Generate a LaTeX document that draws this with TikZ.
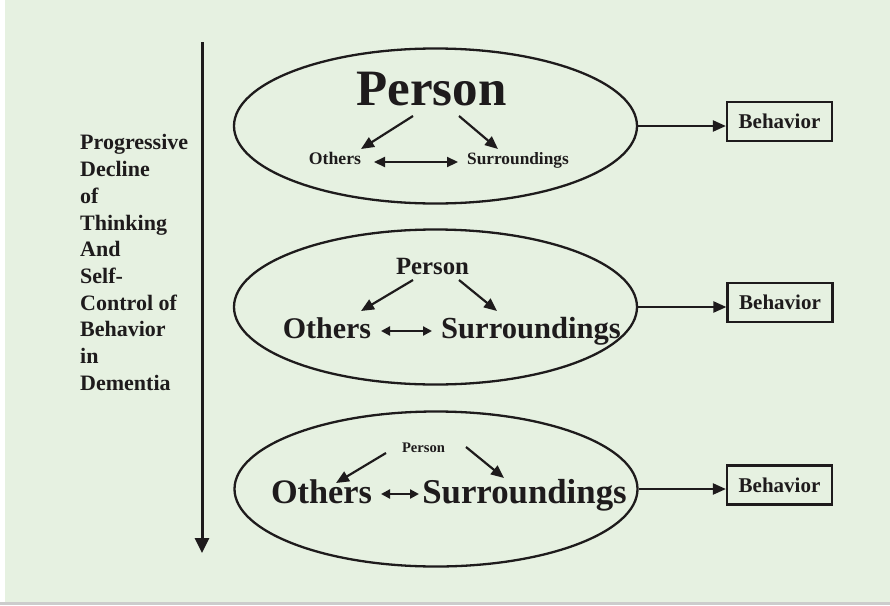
\documentclass[tikz,border=0pt]{standalone}
\usepackage{fontspec}
\setmainfont{Liberation Serif}
\usetikzlibrary{shapes.geometric,arrows.meta}
\definecolor{bg}{RGB}{230,241,225}
\definecolor{ink}{RGB}{30,27,28}
\tikzset{
  ell/.style={ellipse, draw=ink, line width=2.3pt, inner sep=0pt, minimum width=403pt, minimum height=155pt},
  lbl/.style={anchor=base, inner sep=0pt, text=ink, font=\bfseries},
  beh/.style={draw=ink, line width=2.2pt, minimum width=105pt, minimum height=39pt, inner sep=0pt, text=ink, font=\bfseries\fontsize{21}{24}\selectfont},
  arr/.style={draw=ink, line width=2.2pt, -{Triangle[length=13pt,width=11pt]}},
  darr/.style={draw=ink, line width=2.2pt, {Triangle[length=11pt,width=10pt]}-{Triangle[length=11pt,width=10pt]}},
  darrs/.style={draw=ink, line width=2.2pt, {Triangle[length=9pt,width=9pt]}-{Triangle[length=9pt,width=9pt]}},
  vline/.style={draw=ink, line width=3pt, -{Triangle[length=15pt,width=14pt]}}
}
\begin{document}
\begin{tikzpicture}[x=1pt,y=-1pt]
\fill[bg] (0,0) rectangle (890,605);
\fill[white] (0,0) rectangle (5,605);
\fill[black!20] (0,602) rectangle (890,605);
\useasboundingbox (0,0) rectangle (890,605);

% vertical arrow
\coordinate (vtop) at (202,42);
\coordinate (vbot) at (202,553);
\draw[vline] (vtop) -- (vbot);

% left text
\node[anchor=north west, inner sep=0pt, align=left, text=ink,
      font=\bfseries\fontsize{22}{26.7}\selectfont] (side) at (80,134.5)
  {Progressive\\Decline\\of\\Thinking\\And\\Self-\\Control of\\Behavior\\in\\Dementia};

% ellipses
\node[ell] (e1) at (435.5,126) {};
\node[ell] (e2) at (435.5,307) {};
\node[ell] (e3) at (436,489) {};

% top ellipse contents
\node[lbl, font=\bfseries\fontsize{51}{56}\selectfont] (p1) at (431.5,105) {Person};
\node[lbl, font=\bfseries\fontsize{17.7}{20}\selectfont] (o1) at (335,164) {Others};
\node[lbl, font=\bfseries\fontsize{17.3}{20}\selectfont] (s1) at (518,164) {Surroundings};
\coordinate (p1l) at (413,116); \coordinate (o1t) at (361,149);
\coordinate (p1r) at (459,116); \coordinate (s1t) at (498,149);
\coordinate (d1l) at (374,162); \coordinate (d1r) at (458,162);
\draw[arr] (p1l) -- (o1t);
\draw[arr] (p1r) -- (s1t);
\draw[darr] (d1l) -- (d1r);

% middle ellipse contents
\node[lbl, font=\bfseries\fontsize{24.8}{28}\selectfont] (p2) at (432.5,274) {Person};
\node[lbl, font=\bfseries\fontsize{30}{34}\selectfont] (o2) at (327,338) {Others};
\node[lbl, font=\bfseries\fontsize{30.6}{34}\selectfont] (s2) at (531,338) {Surroundings};
\coordinate (p2l) at (413,280); \coordinate (o2t) at (361,311);
\coordinate (p2r) at (459,280); \coordinate (s2t) at (497,311);
\coordinate (d2l) at (381,331); \coordinate (d2r) at (432,331);
\draw[arr] (p2l) -- (o2t);
\draw[arr] (p2r) -- (s2t);
\draw[darrs] (d2l) -- (d2r);

% bottom ellipse contents
\node[lbl, font=\bfseries\fontsize{14.6}{17}\selectfont] (p3) at (423.5,452) {Person};
\node[lbl, font=\bfseries\fontsize{34.3}{38}\selectfont] (o3) at (321.5,503) {Others};
\node[lbl, font=\bfseries\fontsize{34.8}{38}\selectfont] (s3) at (524.5,503) {Surroundings};
\coordinate (p3l) at (386,453); \coordinate (o3t) at (336,483);
\coordinate (p3r) at (466,447); \coordinate (s3t) at (504,478);
\coordinate (d3l) at (381,494); \coordinate (d3r) at (419,494);
\draw[arr] (p3l) -- (o3t);
\draw[arr] (p3r) -- (s3t);
\draw[darrs] (d3l) -- (d3r);

% behavior boxes
\node[beh] (b1) at (779.5,121.5) {Behavior};
\node[beh] (b2) at (780,302.5) {Behavior};
\node[beh] (b3) at (779.5,485) {Behavior};
\draw[arr] (e1.east) -- (e1.east -| b1.west);
\draw[arr] (e2.east) -- (e2.east -| b2.west);
\draw[arr] (e3.east) -- (e3.east -| b3.west);
\end{tikzpicture}
\end{document}
